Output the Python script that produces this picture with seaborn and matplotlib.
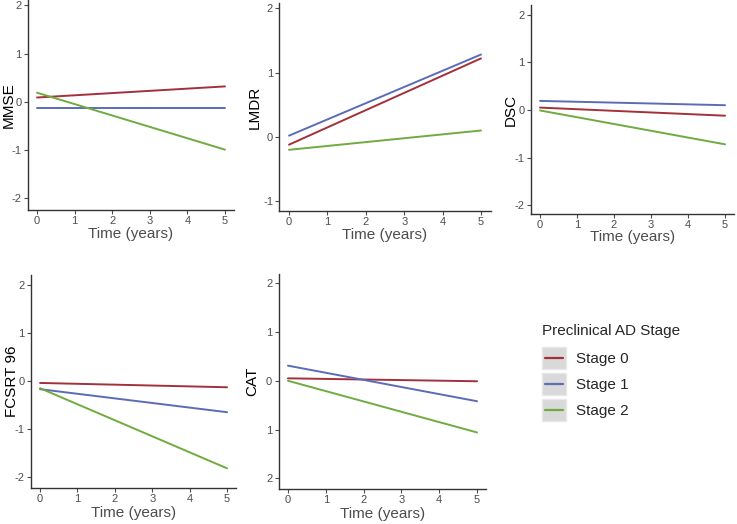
import matplotlib
matplotlib.use("Agg")
import matplotlib.pyplot as plt
from matplotlib.patches import Rectangle
from matplotlib.lines import Line2D
import seaborn as sns
import pandas as pd

# data (value at year 0, value at year 5)
time_years = [0, 5]
stages = ["Stage 0", "Stage 1", "Stage 2"]
mmse = [[0.09, 0.32], [-0.12, -0.12], [0.19, -0.99]]
lmdr = [[-0.12, 1.22], [0.02, 1.28], [-0.20, 0.10]]
dsc = [[0.05, -0.12], [0.19, 0.10], [-0.01, -0.72]]
fcsrt = [[-0.04, -0.13], [-0.17, -0.65], [-0.15, -1.82]]
cat = [[0.05, -0.01], [0.31, -0.42], [0.00, -1.06]]
cat_tick_labels = ["2", "1", "0", "1", "2"]

colors = {"Stage 0": "#a3303a", "Stage 1": "#5a6cb8", "Stage 2": "#6fab3f"}
grey = "#4d4d4d"

sns.set_theme(style="ticks")
plt.rcParams["font.family"] = ["Liberation Sans", "DejaVu Sans"]
plt.rcParams["axes.unicode_minus"] = False


def long_df(values):
    rows = []
    for stage, vals in zip(stages, values):
        for t, v in zip(time_years, vals):
            rows.append({"time": t, "value": v, "stage": stage})
    return pd.DataFrame(rows)


class KeyHandler:
    # ggplot-style legend key: grey box with a centred line
    def legend_artist(self, legend, orig_handle, fontsize, handlebox):
        x0, y0 = -handlebox.xdescent, -handlebox.ydescent
        w, h = handlebox.width, handlebox.height
        rect = Rectangle((x0, y0), w, h, facecolor="#d9d9d9", edgecolor="#e8e8e8",
                         transform=handlebox.get_transform())
        line = Line2D([x0 + 2, x0 + w - 2], [y0 + h / 2] * 2, color=orig_handle.get_color(),
                      linewidth=1.6, transform=handlebox.get_transform())
        handlebox.add_artist(rect)
        handlebox.add_artist(line)
        return rect


fig = plt.figure(figsize=(7.37, 5.24), dpi=100)
W, H = 737, 524


def add_panel(left, right, top, bottom):
    return fig.add_axes([left / W, 1 - bottom / H, (right - left) / W, (bottom - top) / H])


# name, values, pixel box (left, right, top, bottom), ylim, yticks, tick labels, ylabel x, xlabel pad
panels = [
    ("MMSE", mmse, (27.6, 234.4, 0, 210), (-2.24, 2.11), [-2, -1, 0, 1, 2], None, -0.058, 0.5),
    ("LMDR", lmdr, (279.4, 490.6, 3, 211), (-1.15, 2.08), [-1, 0, 1, 2], None, -0.084, 0.5),
    ("DSC", dsc, (530.8, 734.3, 5, 214), (-2.18, 2.2), [-2, -1, 0, 1, 2], None, -0.064, -0.5),
    ("FCSRT 96", fcsrt, (30.7, 236.4, 275, 488), (-2.23, 2.21), [-2, -1, 0, 1, 2], None, -0.058, 1),
    ("CAT", cat, (278.5, 486.5, 274, 489), (-2.22, 2.19), [-2, -1, 0, 1, 2], cat_tick_labels, -0.094, 1),
]

for name, values, box, ylim, yticks, ylabels, ylab_x, xpad in panels:
    ax = add_panel(*box)
    sns.lineplot(data=long_df(values), x="time", y="value", hue="stage",
                 palette=colors, linewidth=1.4, legend=False, ax=ax)
    ax.set_xlim(-0.25, 5.25)
    ax.set_ylim(*ylim)
    ax.set_xticks(range(6))
    ax.set_yticks(yticks)
    if ylabels is not None:
        ax.set_yticklabels(ylabels)
    ax.set_xlabel("Time (years)", fontsize=11, color=grey, labelpad=xpad)
    ax.set_ylabel(name, fontsize=11, color="black")
    ax.yaxis.set_label_coords(ylab_x, 0.5)
    ax.tick_params(labelsize=8, colors=grey, length=3, width=0.8, pad=1.5)
    for s in ["left", "bottom"]:
        ax.spines[s].set_color("#333333")
        ax.spines[s].set_linewidth(1.0)
    sns.despine(ax=ax)

handles = [Line2D([0], [0], color=colors[s]) for s in stages]
leg = fig.legend(handles, stages, loc="upper left", bbox_to_anchor=(528 / W, 1 - 310 / H),
                 title="Preclinical AD Stage", frameon=False, fontsize=11,
                 title_fontsize=11, handlelength=1.57, handleheight=1.84,
                 labelspacing=0.26, handletextpad=0.7,
                 handler_map={Line2D: KeyHandler()})
leg._legend_box.align = "left"
leg._legend_box.sep = 6.5

fig.savefig("out.png", dpi=100)
